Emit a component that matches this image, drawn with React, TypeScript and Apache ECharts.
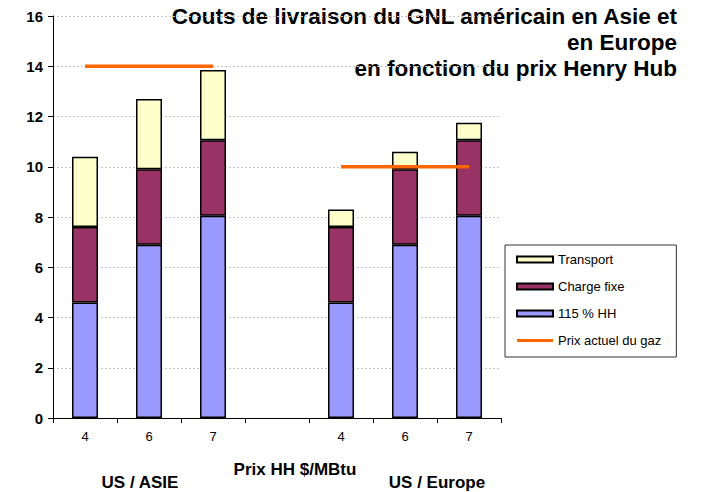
import React, { useEffect, useRef } from "react";
import * as echarts from "echarts";

const categories = ["4", "6", "7", "", "4", "6", "7"];
const hh115 = [4.6, 6.9, 8.05, null, 4.6, 6.9, 8.05];
const chargeFixe = [3.0, 3.0, 3.0, null, 3.0, 3.0, 3.0];
const transport = [2.8, 2.8, 2.8, null, 0.7, 0.7, 0.7];
const prixActuel = [14, 14, 14, null, 10, 10, 10];
const yTicks = { min: 0, max: 16, interval: 2 };
const titleLines = [
  "Couts de livraison du GNL américain en Asie et",
  "en Europe",
  "en fonction du prix Henry Hub",
];
const groupLabels = ["US / ASIE", "US / Europe"];
const xAxisName = "Prix HH $/MBtu";

const FONT = '"Liberation Sans", Arial, sans-serif';

export default function App() {
  const ref = useRef<HTMLDivElement>(null);
  useEffect(() => {
    if (!ref.current) return;
    const chart = echarts.init(ref.current, null, { renderer: "svg" });
    const barStyle = (color: string) => ({
      color,
      borderColor: "#000",
      borderWidth: 1.5,
    });
    const titleY = [16, 42, 68];
    chart.setOption({
      animation: false,
      backgroundColor: "#fff",
      textStyle: { fontFamily: FONT },
      grid: { left: 53, top: 16, right: 201, bottom: 74 },
      legend: {
        orient: "vertical",
        left: 505,
        top: 245,
        padding: [8, 15, 10, 11],
        itemGap: 14,
        itemWidth: 36,
        itemHeight: 6,
        borderColor: "#333",
        borderWidth: 1,
        textStyle: { fontFamily: FONT, fontSize: 13, color: "#000" },
        data: [
          { name: "Transport", icon: "rect" },
          { name: "Charge fixe", icon: "rect" },
          { name: "115 % HH", icon: "rect" },
          { name: "Prix actuel du gaz", icon: "path://M0,0 L36,0 L36,3 L0,3 Z" },
        ],
      },
      xAxis: {
        type: "category",
        data: categories,
        boundaryGap: true,
        axisLine: { lineStyle: { color: "#000", width: 1 } },
        axisTick: { show: true, interval: 0, length: 5, lineStyle: { color: "#000" } },
        axisLabel: { interval: 0, fontFamily: FONT, fontSize: 13, color: "#000", margin: 12 },
      },
      yAxis: {
        type: "value",
        min: yTicks.min,
        max: yTicks.max,
        interval: yTicks.interval,
        axisLine: { show: true, lineStyle: { color: "#000", width: 1 } },
        axisTick: { show: true, length: 5, lineStyle: { color: "#000" } },
        axisLabel: { fontFamily: FONT, fontSize: 15, fontWeight: "bold", color: "#000", margin: 10 },
        splitLine: { show: true, lineStyle: { color: "#c8c8c8", type: [2, 2], width: 1 } },
      },
      series: [
        { name: "115 % HH", type: "bar", stack: "a", barWidth: 26, data: hh115, itemStyle: barStyle("#9999ff") },
        { name: "Charge fixe", type: "bar", stack: "a", barWidth: 26, data: chargeFixe, itemStyle: barStyle("#993366") },
        { name: "Transport", type: "bar", stack: "a", barWidth: 26, data: transport, itemStyle: barStyle("#ffffcc") },
        {
          name: "Prix actuel du gaz",
          type: "line",
          data: prixActuel,
          symbol: "none",
          connectNulls: false,
          lineStyle: { color: "#ff6600", width: 3.5 },
          itemStyle: { color: "#ff6600" },
          z: 5,
        },
      ],
      graphic: [
        ...titleLines.map((t, i) => ({
          type: "text",
          x: 677,
          y: titleY[i],
          style: {
            text: t,
            font: `bold 22.5px ${FONT}`,
            fill: "#000",
            align: "right",
            verticalAlign: "middle",
          },
        })),
        {
          type: "text",
          x: 295,
          y: 469,
          style: { text: xAxisName, font: `bold 17px ${FONT}`, fill: "#000", align: "center", verticalAlign: "middle" },
        },
        {
          type: "text",
          x: 140,
          y: 482,
          style: { text: groupLabels[0], font: `bold 17px ${FONT}`, fill: "#000", align: "center", verticalAlign: "middle" },
        },
        {
          type: "text",
          x: 437,
          y: 482,
          style: { text: groupLabels[1], font: `bold 17px ${FONT}`, fill: "#000", align: "center", verticalAlign: "middle" },
        },
      ],
    });
    return () => chart.dispose();
  }, []);
  return <div ref={ref} style={{ width: 702, height: 492, position: "absolute", left: 0, top: 0 }} />;
}
